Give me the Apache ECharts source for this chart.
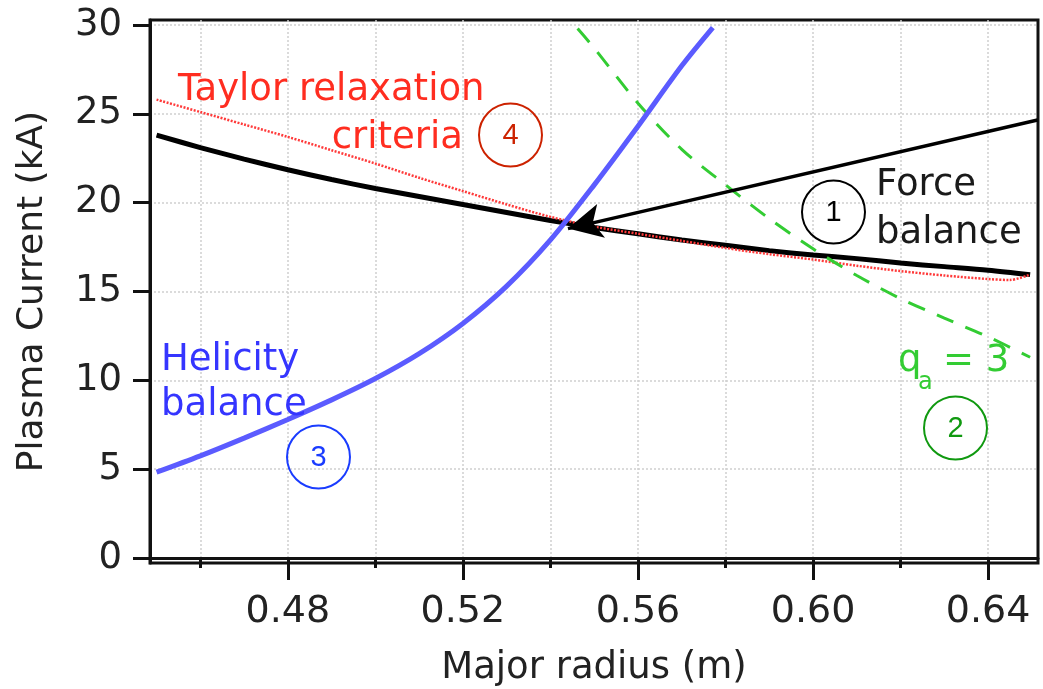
<!DOCTYPE html>
<html>
<head>
<meta charset="utf-8">
<script src="https://cdn.jsdelivr.net/npm/echarts@6/dist/echarts.min.js"></script>
<style>
html, body { margin: 0; padding: 0; background: #fff; }
#chart { width: 1043px; height: 689px; }
</style>
</head>
<body>
<div id="chart"></div>
<script>
// 坐标轴刻度
var xMajorTicks = [0.48, 0.52, 0.56, 0.60, 0.64];
var xAllTicks = [0.46, 0.48, 0.50, 0.52, 0.54, 0.56, 0.58, 0.60, 0.62, 0.64];
var yTicks = [0, 5, 10, 15, 20, 25, 30];

// (1) Force balance
var forceR = [0.45, 0.46, 0.47, 0.48, 0.49, 0.50, 0.51, 0.52, 0.53, 0.54, 0.55, 0.56, 0.57, 0.58, 0.59, 0.60, 0.61, 0.62, 0.63, 0.64, 0.6496];
var forceI = [23.8, 23.1, 22.45, 21.85, 21.3, 20.8, 20.35, 19.9, 19.45, 19.0, 18.6, 18.25, 17.9, 17.6, 17.3, 17.05, 16.85, 16.6, 16.4, 16.2, 15.95];

// (4) Taylor relaxation criteria
var taylorR = [0.45, 0.46, 0.47, 0.48, 0.49, 0.50, 0.51, 0.52, 0.53, 0.54, 0.55, 0.56, 0.57, 0.58, 0.59, 0.60, 0.61, 0.62, 0.63, 0.64, 0.645, 0.6496];
var taylorI = [25.8, 25.1, 24.4, 23.7, 22.95, 22.2, 21.4, 20.65, 19.9, 19.2, 18.65, 18.25, 17.85, 17.45, 17.1, 16.8, 16.45, 16.15, 15.9, 15.7, 15.65, 15.95];

// (3) Helicity balance
var helicityR = [0.45, 0.46, 0.47, 0.48, 0.49, 0.50, 0.51, 0.52, 0.53, 0.54, 0.55, 0.56, 0.57, 0.5771];
var helicityI = [4.83, 5.75, 6.75, 7.8, 8.9, 10.1, 11.5, 13.2, 15.3, 17.9, 21.0, 24.3, 27.7, 29.85];

// (2) q_a = 3
var qaR = [0.5462, 0.55, 0.56, 0.57, 0.58, 0.59, 0.60, 0.61, 0.62, 0.63, 0.64, 0.6496];
var qaI = [29.8, 28.7, 25.6, 23.0, 21.0, 19.1, 17.4, 15.9, 14.6, 13.5, 12.45, 11.3];

// 箭头 (起点 -> 交点)
var arrowFrom = [0.6513, 24.65];
var arrowTo = [0.5440, 18.54];

function pairs(xs, ys) {
    return xs.map(function (x, i) { return [x, ys[i]]; });
}

var font = 'DejaVu Sans';
var chart = echarts.init(document.getElementById('chart'));

var option = {
    animation: false,
    grid: {
        left: 150,
        right: 5,
        top: 20,
        bottom: 126,
        outerBoundsMode: 'none', // 不要自动收缩网格
        show: true,
        borderColor: '#111',
        borderWidth: 3
    },
    xAxis: [
        {
            type: 'value',
            min: 0.4485,
            max: 0.6514,
            name: 'Major radius (m)',
            nameLocation: 'middle',
            nameGap: 87,
            nameTextStyle: { fontFamily: font, fontSize: 37, color: '#222' },
            axisLine: { lineStyle: { color: '#111', width: 3 } },
            // 次刻度 (每 0.02)
            axisTick: { customValues: xAllTicks, length: 10, lineStyle: { color: '#111', width: 3 } },
            axisLabel: {
                customValues: xMajorTicks,
                margin: 30,
                fontFamily: font,
                fontSize: 38,
                color: '#222',
                formatter: function (v) { return v.toFixed(2); }
            },
            splitLine: { show: true, lineStyle: { color: '#cfcfcf', width: 1.5, type: [2, 2] } }
        },
        {
            // 主刻度, 放在底部
            type: 'value',
            min: 0.4485,
            max: 0.6514,
            position: 'top',
            offset: -543,
            axisLine: { show: false },
            axisTick: { inside: true, customValues: xMajorTicks, length: 17, lineStyle: { color: '#111', width: 3 } },
            axisLabel: { show: false },
            splitLine: { show: false }
        }
    ],
    yAxis: {
        type: 'value',
        min: -0.28,
        max: 30.28,
        name: 'Plasma Current (kA)',
        nameLocation: 'middle',
        nameGap: 99,
        nameTextStyle: { fontFamily: font, fontSize: 36, color: '#222' },
        axisLine: { show: true, lineStyle: { color: '#111', width: 3 } },
        axisTick: { show: true, customValues: yTicks, length: 17, lineStyle: { color: '#111', width: 3 } },
        axisLabel: {
            customValues: yTicks,
            margin: 28,
            fontFamily: font,
            fontSize: 37,
            color: '#222'
        },
        splitLine: { show: true, lineStyle: { color: '#cfcfcf', width: 1.5, type: [2, 2] } }
    },
    series: [
        {
            name: 'Force balance',
            type: 'line',
            data: pairs(forceR, forceI),
            smooth: 0.3,
            showSymbol: false,
            lineStyle: { color: '#000', width: 5 },
            z: 2
        },
        {
            name: 'Taylor relaxation criteria',
            type: 'line',
            data: pairs(taylorR, taylorI),
            smooth: 0.3,
            showSymbol: false,
            lineStyle: { color: '#ff3a3a', width: 2.5, type: [2, 1.5] },
            z: 3
        },
        {
            name: 'q_a = 3',
            type: 'line',
            data: pairs(qaR, qaI),
            smooth: 0.3,
            showSymbol: false,
            lineStyle: { color: '#33cc33', width: 3, type: [18, 13] },
            z: 3
        },
        {
            name: 'Helicity balance',
            type: 'line',
            data: pairs(helicityR, helicityI),
            smooth: 0.3,
            showSymbol: false,
            lineStyle: { color: '#5b5bff', width: 5 },
            z: 4,
            markLine: {
                silent: true,
                symbol: ['none', 'arrow'],
                symbolSize: [26, 34],
                label: { show: false },
                lineStyle: { color: '#000', width: 3.5, type: 'solid' },
                data: [[{ coord: arrowFrom }, { coord: arrowTo }]],
                z: 10
            }
        }
    ],
    graphic: [
        // 注释文字
        { type: 'text', x: 178, y: 90, z: 20, style: { text: 'Taylor relaxation', fill: '#ff2d20', font: '37px "DejaVu Sans"', textVerticalAlign: 'middle' } },
        { type: 'text', x: 463, y: 138, z: 20, style: { text: 'criteria', fill: '#ff2d20', font: '37px "DejaVu Sans"', textAlign: 'right', textVerticalAlign: 'middle' } },
        { type: 'text', x: 876, y: 185, z: 20, style: { text: 'Force', fill: '#1a1a1a', font: '37px "DejaVu Sans"', textVerticalAlign: 'middle' } },
        { type: 'text', x: 876, y: 233, z: 20, style: { text: 'balance', fill: '#1a1a1a', font: '37px "DejaVu Sans"', textVerticalAlign: 'middle' } },
        { type: 'text', x: 161, y: 360, z: 20, style: { text: 'Helicity', fill: '#3535ff', font: '37px "DejaVu Sans"', textVerticalAlign: 'middle' } },
        { type: 'text', x: 161, y: 405, z: 20, style: { text: 'balance', fill: '#3535ff', font: '37px "DejaVu Sans"', textVerticalAlign: 'middle' } },
        { type: 'text', x: 898, y: 361, z: 20, style: { text: 'q', fill: '#33cc33', font: '37px "DejaVu Sans"', textVerticalAlign: 'middle' } },
        { type: 'text', x: 918, y: 383, z: 20, style: { text: 'a', fill: '#33cc33', font: '24px "DejaVu Sans"', textVerticalAlign: 'middle' } },
        { type: 'text', x: 943, y: 361, z: 20, style: { text: '= 3', fill: '#33cc33', font: '37px "DejaVu Sans"', textVerticalAlign: 'middle' } },
        // 编号圆圈
        { type: 'circle', z: 20, shape: { cx: 833.5, cy: 212, r: 31.5 }, style: { fill: 'none', stroke: '#000', lineWidth: 2 } },
        { type: 'text', x: 833.5, y: 213, z: 20, style: { text: '1', fill: '#000', font: '29px "Liberation Sans"', textAlign: 'center', textVerticalAlign: 'middle' } },
        { type: 'circle', z: 20, shape: { cx: 955.5, cy: 428, r: 31.5 }, style: { fill: 'none', stroke: '#109910', lineWidth: 2 } },
        { type: 'text', x: 955.5, y: 429, z: 20, style: { text: '2', fill: '#109910', font: '29px "Liberation Sans"', textAlign: 'center', textVerticalAlign: 'middle' } },
        { type: 'circle', z: 20, shape: { cx: 318.5, cy: 457, r: 31.5 }, style: { fill: 'none', stroke: '#1a3cff', lineWidth: 2 } },
        { type: 'text', x: 318.5, y: 458, z: 20, style: { text: '3', fill: '#1a3cff', font: '29px "Liberation Sans"', textAlign: 'center', textVerticalAlign: 'middle' } },
        { type: 'circle', z: 20, shape: { cx: 510.5, cy: 135, r: 31.5 }, style: { fill: 'none', stroke: '#cc2200', lineWidth: 2 } },
        { type: 'text', x: 510.5, y: 136, z: 20, style: { text: '4', fill: '#cc2200', font: '29px "Liberation Sans"', textAlign: 'center', textVerticalAlign: 'middle' } }
    ]
};

chart.setOption(option);
window.addEventListener('resize', function () {
    chart.resize();
});
</script>
</body>
</html>
